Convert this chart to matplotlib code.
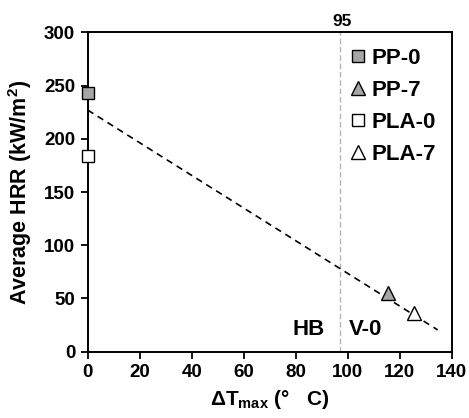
import matplotlib
matplotlib.use("Agg")
import matplotlib.pyplot as plt
import numpy as np

plt.rcParams['font.family'] = ['Liberation Sans', 'DejaVu Sans']
plt.rcParams['font.weight'] = 'bold'
plt.rcParams['mathtext.fontset'] = 'custom'
plt.rcParams['mathtext.rm'] = 'Liberation Sans:bold'
plt.rcParams['mathtext.bf'] = 'Liberation Sans:bold'
plt.rcParams['mathtext.it'] = 'Liberation Sans:bold'

# Data
series_names = ["PP-0", "PP-7", "PLA-0", "PLA-7"]
dtmax = [0, 115.5, 0, 125.5]
avg_hrr = [243, 55, 184, 36]
markers = ["s", "^", "s", "^"]
fills = ["#a6a6a6", "#a6a6a6", "white", "white"]

fit_x = [0, 134.6]
fit_y = [227, 20.5]

threshold_x = 97
threshold_label = "95"

xticks = [0, 20, 40, 60, 80, 100, 120, 140]
yticks = [0, 50, 100, 150, 200, 250, 300]

fig = plt.figure(figsize=(4.69, 4.18), dpi=100)
ax = fig.add_axes([0.187, 0.1586, 0.776, 0.764])

ax.plot(fit_x, fit_y, linestyle=(0, (4, 3)), color="black", lw=1.2, zorder=2)
ax.axvline(threshold_x, color="#b5b5b5", linestyle=(0, (4, 2)), lw=1.0, zorder=1)

for name, x, y, m, f in zip(series_names, dtmax, avg_hrr, markers, fills):
    ax.plot([x], [y], linestyle="none", marker=m, markersize=8.5 if m == "s" else 10,
            markerfacecolor=f, markeredgecolor="black", markeredgewidth=1.0,
            label=name, zorder=3, clip_on=False)

ax.set_xlim(0, 140)
ax.set_ylim(0, 300)
ax.set_xticks(xticks)
ax.set_yticks(yticks)
ax.tick_params(direction="out", length=5, width=1.3, labelsize=13.5, pad=4)
for lab in ax.get_xticklabels() + ax.get_yticklabels():
    lab.set_fontweight("bold")
for s in ax.spines.values():
    s.set_linewidth(1.4)

ax.set_xlabel("ΔT$_{\\mathrm{max}}$ (°   C)", fontsize=15, fontweight="bold", labelpad=5)
ax.set_ylabel("Average HRR (kW/m$^{2}$)", fontsize=15.5, fontweight="bold", labelpad=7)

ax.text(threshold_x + 1.0, 303, threshold_label, ha="center", va="bottom",
        fontsize=12.5, fontweight="bold")
ax.text(85, 21, "HB", ha="center", va="center", fontsize=16, fontweight="bold")
ax.text(106.8, 21, "V-0", ha="center", va="center", fontsize=16, fontweight="bold")

leg = ax.legend(loc="upper right", frameon=False, handlelength=0.6,
                handletextpad=0.3, labelspacing=0.5, borderaxespad=0.3,
                markerscale=1.0, prop={"weight": "bold", "size": 16})

fig.savefig("out.png", dpi=100)
